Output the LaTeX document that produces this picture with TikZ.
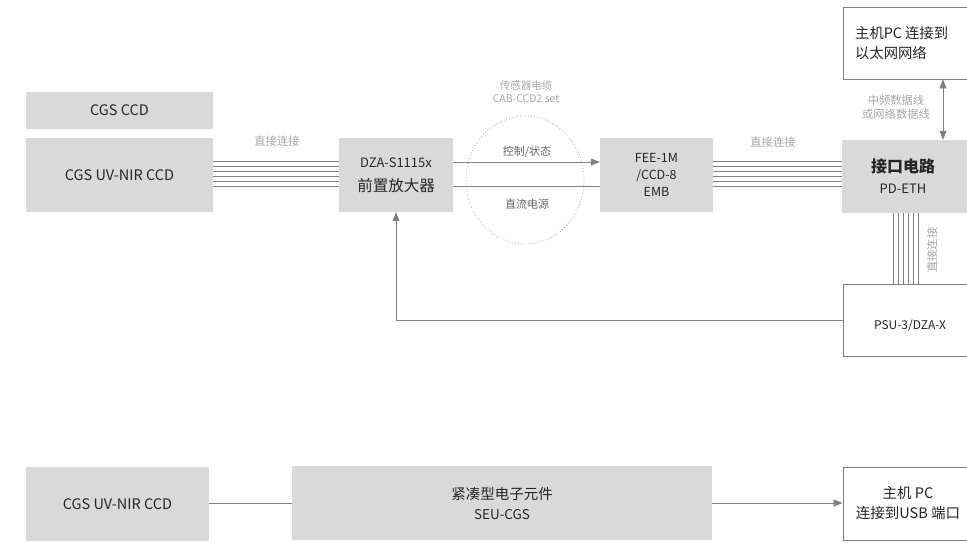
\documentclass[tikz,border=0pt]{standalone}
\usepackage{fontspec}
\setmainfont{Noto Sans CJK SC}
\usetikzlibrary{arrows.meta,calc}
\definecolor{boxfill}{HTML}{D9D9D9}
\definecolor{txt}{HTML}{262626}
\definecolor{lbl}{HTML}{A6A6A6}
\definecolor{mid}{HTML}{666666}
\definecolor{ln}{HTML}{808080}
\begin{document}
\begin{tikzpicture}[x=1pt,y=-1pt,
  gbox/.style={fill=boxfill,draw=none,inner sep=0pt,text=txt,align=center,font=\fontsize{14.5}{20}\selectfont},
  wbox/.style={fill=white,draw=ln,line width=0.8pt,inner sep=0pt,text=txt,align=center,font=\fontsize{14}{20}\selectfont},
  lab/.style={text=lbl,inner sep=0pt,align=center,font=\fontsize{11.3}{13.5}\selectfont},
  wire/.style={draw=ln,line width=0.8pt},
  arr/.style={wire,-{Triangle[length=9pt,width=7pt]}},
  darr/.style={wire,{Triangle[length=9pt,width=7pt]}-{Triangle[length=9pt,width=7pt]}},
  bundle/.style={draw=ln,line width=0.6pt}]
\useasboundingbox (0,0) rectangle (967,542);
\begin{scope}
\clip (0,0) rectangle (967,542);
% top row boxes
\node[gbox,minimum width=187pt,minimum height=37pt] (ccd) at (119.5,110.5) {CGS CCD};
\node[gbox,minimum width=187pt,minimum height=74pt] (uv) at (119.5,175) {CGS UV-NIR CCD};
\node[gbox,minimum width=114pt,minimum height=74pt,font=\fontsize{13}{24}\selectfont] (dza) at (396,175) {DZA-S1115x\\{\fontsize{15.5}{24}\selectfont 前置放大器}};
\node[gbox,minimum width=113pt,minimum height=74pt,font=\fontsize{12.5}{17}\selectfont] (fee) at (656.5,175) {FEE-1M\\/CCD-8\\EMB};
\node[gbox,minimum width=128pt,minimum height=73pt] (pd) at (906,176.5) {};
\node[text=txt,inner sep=0pt,font=\fontsize{16}{18}\selectfont\bfseries] (pdt1) at (903,166.5) {接口电路};
\node[text=txt,inner sep=0pt,font=\fontsize{13}{16}\selectfont] (pdt2) at (903,189) {PD-ETH};
\node[wbox,minimum width=127pt,minimum height=72pt] (host1) at (906.5,43) {};
\node[text=txt,inner sep=0pt,anchor=west,align=left,font=\fontsize{14.3}{20}\selectfont] (host1t) at (855,43) {主机PC 连接到\\以太网网络};
\node[wbox,minimum width=127pt,minimum height=72pt] (psu) at (906.5,320) {};
\node[text=txt,inner sep=0pt,font=\fontsize{12}{16}\selectfont] (psut) at (910,326) {PSU-3/DZA-X};
% bundles
\foreach \yy in {161,166,171,176,181,186}{
  \draw[bundle] (uv.east |- 0,\yy) -- (dza.west |- 0,\yy);
  \draw[bundle] (fee.east |- 0,\yy) -- (pd.west |- 0,\yy);
}
\foreach \xx in {893,898,903,908,913,918}{
  \draw[bundle] (pd.south -| \xx,0) -- (psu.north -| \xx,0);
}
\node[lab] (l1) at (277,141) {直接连接};
\node[lab] (l2) at (773,142) {直接连接};
\node[lab,rotate=90] (l3) at (932,250) {直接连接};
% cable
\draw[lbl,line width=0.8pt,dotted] (525,180) ellipse [x radius=59pt, y radius=64pt];
\node[lab,font=\fontsize{10.5}{13.5}\selectfont] (cab) at (526,91.5) {传感器电缆\\CAB-CCD2 set};
\draw[arr] (dza.east |- 0,162) -- (fee.west |- 0,162);
\draw[wire] (dza.east |- 0,186) -- (fee.west |- 0,186);
\node[lab,text=mid,font=\fontsize{11}{13}\selectfont] (ctl) at (527,152) {控制/状态};
\node[lab,text=mid,font=\fontsize{11}{13}\selectfont] (dc) at (527,204) {直流电源};
% host link
\draw[darr] (host1.south -| 943,0) -- (pd.north -| 943,0);
\node[lab] (hl) at (896,107) {中频数据线\\或网络数据线};
% feedback
\draw[arr] (psu.west) -| (dza.south);
% bottom row
\node[gbox,minimum width=183pt,minimum height=74pt] (buv) at (117.5,504) {CGS UV-NIR CCD};
\node[gbox,minimum width=420pt,minimum height=74pt,font=\fontsize{14.5}{20}\selectfont] (seu) at (502,503) {紧凑型电子元件\\{\fontsize{13.5}{20}\selectfont SEU-CGS}};
\node[wbox,minimum width=127pt,minimum height=73pt] (host2) at (906.5,503.5) {};
\node[text=txt,inner sep=0pt,align=center,font=\fontsize{14.5}{20}\selectfont] (host2t) at (908,503) {主机 PC\\连接到USB 端口};
\draw[wire] (buv.east |- 0,503) -- (seu.west |- 0,503);
\draw[arr] (seu.east |- 0,503) -- (host2.west |- 0,503);
\end{scope}
\end{tikzpicture}
\end{document}
